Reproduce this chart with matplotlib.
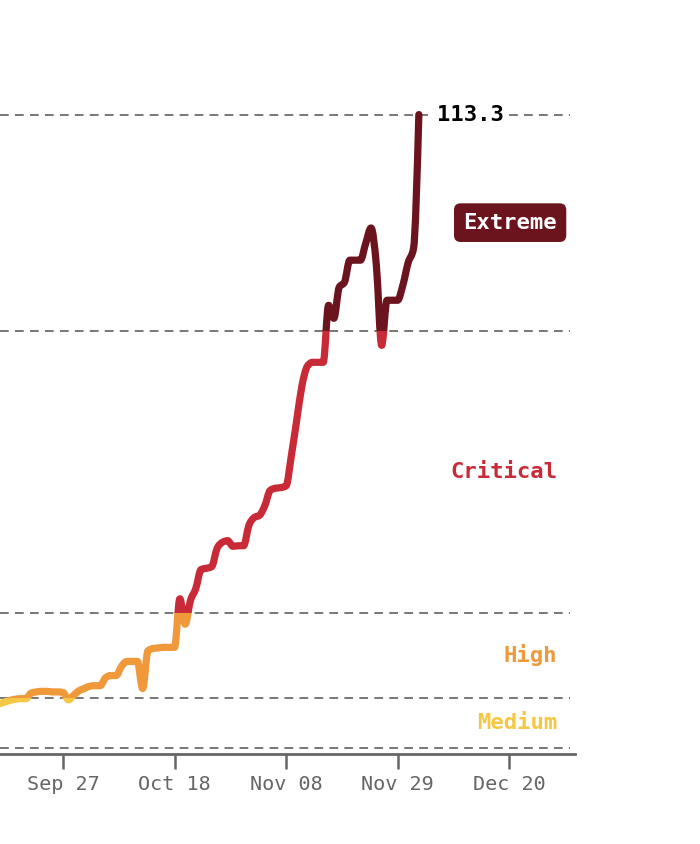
import matplotlib
matplotlib.use("Agg")
import matplotlib.pyplot as plt
import matplotlib.dates as mdates
from matplotlib.patches import Rectangle, PathPatch
from matplotlib.path import Path
import numpy as np
import pandas as pd

# daily index values, starting Sep 15
start = "2021-09-15"
values = [8.9, 9.2, 9.5, 9.7, 9.8, 9.8, 10.8, 11.0, 11.1, 11.1, 11.0, 11.0,
          10.9, 9.6, 10.4, 11.2, 11.6, 12.0, 12.1, 12.1, 13.5, 13.9, 13.9, 15.5,
          16.4, 16.4, 16.4, 11.6, 18.3, 18.7, 18.8, 18.9, 18.9, 18.9, 27.5, 23.0,
          27.2, 29.3, 32.7, 32.9, 33.2, 36.4, 37.5, 37.8, 36.8, 36.9, 36.9, 40.5,
          41.9, 42.3, 44.0, 46.7, 47.1, 47.2, 47.5, 52.9, 59.1, 65.3, 68.7, 69.4,
          69.4, 69.4, 79.5, 77.2, 82.7, 83.6, 87.5, 87.5, 87.5, 90.5, 93.2, 86.6,
          72.4, 80.4, 80.4, 80.4, 83.1, 87.1, 89.6, 113.3]
dates = pd.date_range(start, periods=len(values), freq="D")

# bands
levels = ["Medium", "High", "Critical", "Extreme"]
bounds = [1, 10, 25, 75, 113.3]
colors = ["#f6c744", "#f0993b", "#c92a37", "#6b141d"]

tick_dates = ["2021-09-27", "2021-10-18", "2021-11-08", "2021-11-29", "2021-12-20"]


def monotone_path(x, y):
    # monotone cubic (like d3.curveMonotoneX) as bezier path
    x = np.asarray(x, float)
    y = np.asarray(y, float)
    h = np.diff(x)
    s = np.diff(y) / h
    m = np.zeros_like(y)
    for i in range(1, len(y) - 1):
        s0, s1 = s[i - 1], s[i]
        p = (s0 * h[i] + s1 * h[i - 1]) / (h[i - 1] + h[i])
        m[i] = (np.sign(s0) + np.sign(s1)) * min(abs(s0), abs(s1), 0.5 * abs(p))
    m[0] = (3 * s[0] - m[1]) / 2
    m[-1] = (3 * s[-1] - m[-2]) / 2
    verts = [(x[0], y[0])]
    codes = [Path.MOVETO]
    for i in range(len(x) - 1):
        d = h[i] / 3
        verts += [(x[i] + d, y[i] + m[i] * d), (x[i + 1] - d, y[i + 1] - m[i + 1] * d),
                  (x[i + 1], y[i + 1])]
        codes += [Path.CURVE4] * 3
    return Path(verts, codes)


plt.rcParams["font.family"] = ["DejaVu Sans Mono", "DejaVu Sans"]

fig = plt.figure(figsize=(7, 8.44), dpi=100)
ax = fig.add_axes([0, 90 / 844, 575 / 700, 754 / 844])

ref = mdates.date2num(pd.Timestamp("2021-09-27"))
x0 = ref - 11.86
x1 = ref + 96.4
ax.set_xlim(x0, x1)
ax.set_ylim(0, 133.6)

xd = mdates.date2num(dates)
dash_end = ref + 95.5
for b in bounds:
    ax.hlines(b, x0, dash_end, colors="#777777", linestyles=(0, (4.5, 3.2)),
              linewidth=1.4, zorder=1)

lo = [0] + bounds[1:4]
hi = bounds[1:4] + [200]
curve = monotone_path(xd, values)
for i, c in enumerate(colors):
    patch = PathPatch(curve, facecolor="none", edgecolor=c, linewidth=5.2,
                      capstyle="round", joinstyle="round", zorder=3)
    ax.add_patch(patch)
    clip = Rectangle((x0 - 10, lo[i]), x1 - x0 + 20, hi[i] - lo[i],
                     transform=ax.transData)
    patch.set_clip_path(clip)

# band labels at middle of each band
lab_x = ref + 93.0
for i, name in enumerate(levels):
    mid = (bounds[i] + bounds[i + 1]) / 2
    if name == "Extreme":
        ax.text(lab_x, mid, name, color="white", fontsize=16, fontweight="bold",
                ha="right", va="center", zorder=5,
                bbox=dict(boxstyle="round,pad=0.42,rounding_size=0.3",
                          facecolor=colors[i], edgecolor="none"))
    else:
        ax.text(lab_x, mid, name, color=colors[i], fontsize=16, fontweight="bold",
                ha="right", va="center", zorder=5)

ax.text(ref + 70.4, values[-1], "113.3",
        color="black", fontsize=16, fontweight="bold", ha="left", va="center",
        zorder=5, bbox=dict(boxstyle="square,pad=0.15", facecolor="white",
                            edgecolor="none"))

ax.set_xticks(mdates.date2num(pd.to_datetime(tick_dates)))
ax.xaxis.set_major_formatter(mdates.DateFormatter("%b %d"))
ax.tick_params(axis="x", length=11, width=1.8, color="#666666",
               labelcolor="#666666", labelsize=14.5, pad=4)
ax.set_yticks([])
for s in ["top", "right", "left"]:
    ax.spines[s].set_visible(False)
ax.spines["bottom"].set_color("#666666")
ax.spines["bottom"].set_linewidth(2)

fig.savefig("out.png", dpi=100)
